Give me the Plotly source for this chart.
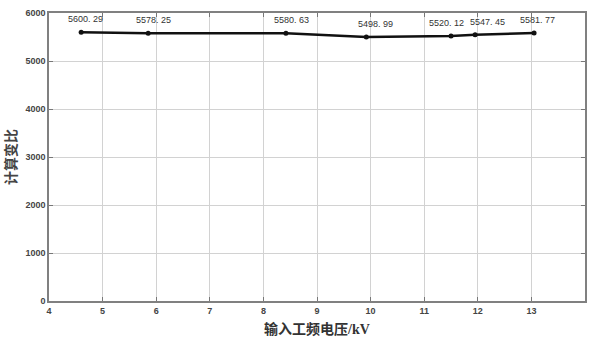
import plotly.graph_objects as go

# Input power-frequency voltage (kV) and computed ratio
voltage_kv = [4.6, 5.85, 8.42, 9.92, 11.5, 11.95, 13.05]
ratio = [5600.29, 5578.25, 5580.63, 5498.99, 5520.12, 5547.45, 5581.77]
ratio_labels = ["5600. 29", "5578. 25", "5580. 63", "5498. 99", "5520. 12", "5547. 45", "5581. 77"]

x_ticks = list(range(4, 15))
y_ticks = [0, 1000, 2000, 3000, 4000, 5000, 6000]

# horizontal nudge (px) of each value label so neighbours don't collide
label_dx = [4, 5, 6, 9, -5, 12, 3]

fig = go.Figure()
fig.add_trace(go.Scatter(
    x=voltage_kv, y=ratio,
    mode="lines+markers",
    line=dict(color="#111111", width=2.5),
    marker=dict(color="#111111", size=5),
    showlegend=False,
))

for xv, yv, lab, dx in zip(voltage_kv, ratio, ratio_labels, label_dx):
    fig.add_annotation(
        x=xv, y=yv, text=lab, showarrow=False,
        xshift=dx, yshift=13, yanchor="middle",
        font=dict(family="Liberation Sans", size=9, color="#333333"),
    )

axis_common = dict(
    showline=True, linecolor="#808080", linewidth=1.5, mirror="ticks",
    ticks="inside", ticklen=4, tickcolor="#777777",
    showgrid=True, gridcolor="#d2d2d2", gridwidth=1,
    zeroline=False,
    tickfont=dict(family="Liberation Sans", size=9, color="#444444", weight="bold"),
)

fig.update_xaxes(
    range=[4, 14], tickvals=x_ticks, ticktext=[str(t) for t in x_ticks],
    title=dict(text="输入工频电压/kV", standoff=10,
               font=dict(family="Liberation Serif, Noto Sans CJK SC", size=14,
                         color="#333333", weight="bold")),
    **axis_common,
)
fig.update_yaxes(
    range=[0, 6000], tickvals=y_ticks, ticktext=[str(t) for t in y_ticks],
    title=dict(text="计算变比", standoff=6,
               font=dict(family="Noto Sans CJK SC", size=14, color="#444444", weight="bold")),
    **axis_common,
)

fig.update_layout(
    width=589, height=341,
    margin=dict(l=49, r=2, t=13, b=40),
    paper_bgcolor="white", plot_bgcolor="white",
)

fig.write_html("out.html")
